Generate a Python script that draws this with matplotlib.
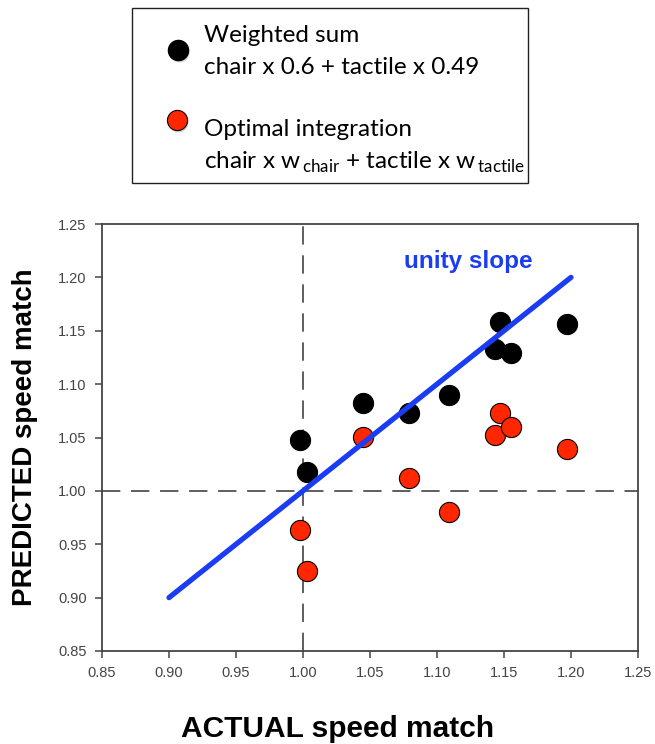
import matplotlib
matplotlib.use("Agg")
import matplotlib.pyplot as plt
from matplotlib.patches import Rectangle

plt.rcParams['font.family'] = ['Liberation Sans', 'DejaVu Sans']
plt.rcParams['mathtext.fontset'] = 'custom'
plt.rcParams['mathtext.rm'] = 'Lato'

# data
actual = [0.998, 1.003, 1.045, 1.079, 1.109, 1.147, 1.143, 1.155, 1.197]
pred_weighted = [1.048, 1.018, 1.0825, 1.0725, 1.0897, 1.158, 1.133, 1.129, 1.156]
pred_optimal = [0.963, 0.925, 1.0506, 1.0116, 0.980, 1.073, 1.052, 1.060, 1.039]
unity = [0.90, 1.20]
ticks = [0.85, 0.90, 0.95, 1.00, 1.05, 1.10, 1.15, 1.20, 1.25]

BLUE = '#1a3cf2'
RED = '#ff2600'

fig = plt.figure(figsize=(6.55, 7.44), dpi=100)
ax = fig.add_axes([102 / 655, 1 - 651 / 744, 536 / 655, 427 / 744])

ax.axvline(1.0, color='#333333', lw=1.1, dashes=(12, 7), zorder=1)
ax.axhline(1.0, color='#333333', lw=1.1, dashes=(12, 7), zorder=1)

ax.plot(actual, pred_weighted, 'o', ms=14.5, color='black', mec='black', mew=0.8, zorder=3)
ax.plot(actual, pred_optimal, 'o', ms=14.5, color=RED, mec='black', mew=0.8, zorder=3)
ax.plot(unity, unity, color=BLUE, lw=3.8, solid_capstyle='round', zorder=4)
ax.text(1.075, 1.215, 'unity slope', color=BLUE, fontsize=17.5, fontweight='bold', va='center')

ax.set_xlim(0.85, 1.25)
ax.set_ylim(0.85, 1.25)
ax.set_xticks(ticks)
ax.set_yticks(ticks)
ax.set_xticklabels(['%.2f' % t for t in ticks])
ax.set_yticklabels(['%.2f' % t for t in ticks])
ax.tick_params(direction='out', length=5, width=1.1, colors='#444444', labelsize=10.5, pad=6)
for s in ax.spines.values():
    s.set_color('#444444')
    s.set_linewidth(1.3)

fig.text(0.515, 1 - 737 / 744, 'ACTUAL speed match', fontsize=21.5, fontweight='bold',
         ha='center', va='baseline')
fig.text(0.038, 1 - 437 / 744, 'PREDICTED speed match', fontsize=20, fontweight='bold',
         ha='center', va='center', rotation=90)

# legend box drawn by hand, in pixel coords
lg = fig.add_axes([132 / 655, 1 - 183 / 744, 396 / 655, 175 / 744])
lg.set_xlim(0, 396)
lg.set_ylim(175, 0)
lg.axis('off')
lg.add_patch(Rectangle((0, 0), 396, 175, fill=False, ec='#222222', lw=1.0, clip_on=False))
lg.plot([46.5], [44], 'o', ms=14.5, color='#999999', alpha=0.4, mec='none')
lg.plot([46], [42], 'o', ms=14.5, color='black', mec='black')
lg.plot([45.5], [114], 'o', ms=14.5, color='#999999', alpha=0.4, mec='none')
lg.plot([45], [112], 'o', ms=14.5, color=RED, mec='black', mew=0.8)
lf = dict(fontsize=17.5, family=['Lato', 'DejaVu Sans'], va='center', ha='left')
lg.text(72, 27, 'Weighted sum', **lf)
lg.text(72, 59, 'chair x 0.6 + tactile x 0.49', **lf)
lg.text(72, 122, 'Optimal integration', **lf)
lg.text(72, 154, r'chair x w$_{\,\mathregular{chair}}$ + tactile x w$_{\,\mathregular{tactile}}$', **lf)

fig.savefig('out.png', dpi=100)
